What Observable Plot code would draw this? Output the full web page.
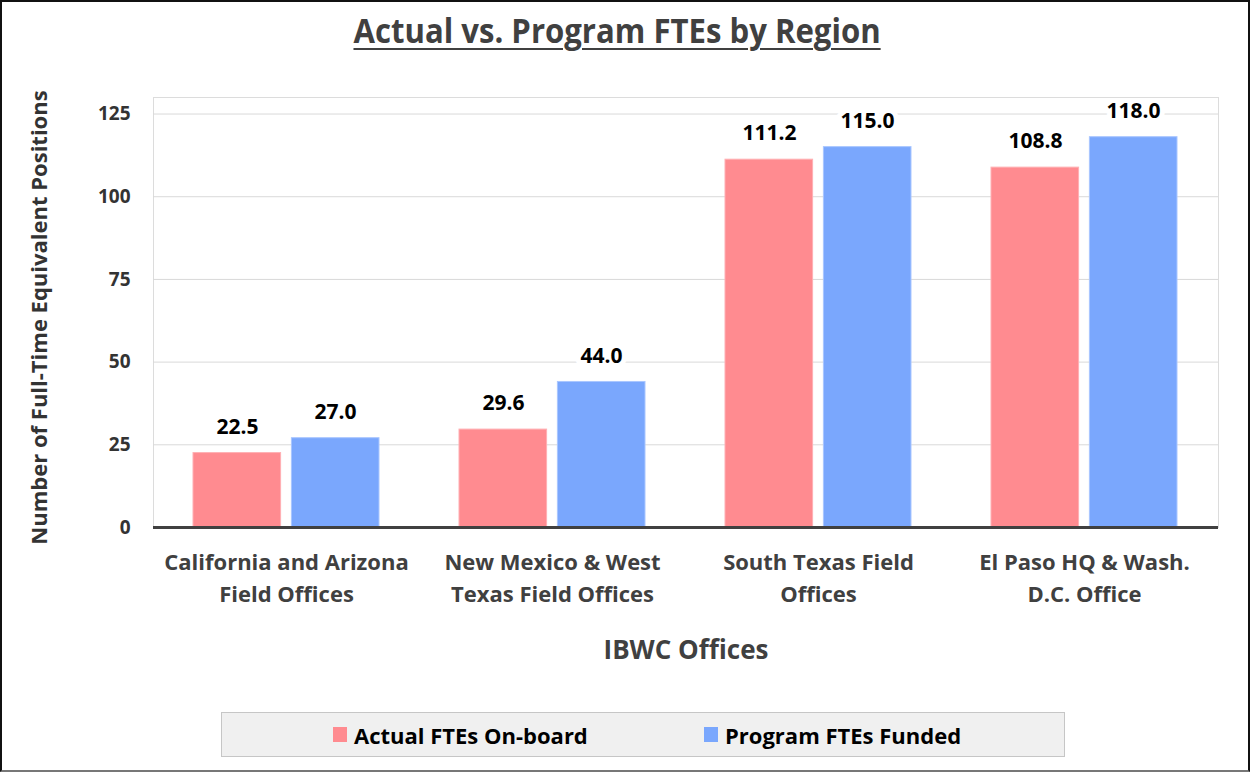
<!DOCTYPE html>
<html>
<head>
<meta charset="utf-8">
<script src="https://cdn.jsdelivr.net/npm/d3@7"></script>
<script src="https://cdn.jsdelivr.net/npm/@observablehq/plot@0.6"></script>
<style>
  html, body { margin: 0; padding: 0; background: #fff; }
  #wrap { position: relative; width: 1250px; height: 772px; overflow: hidden; background: #fff; }
  #frame { position: absolute; left: 0; top: 0; width: 1250px; height: 772px; box-sizing: border-box;
           border: 2px solid #111; border-bottom-color: #777; pointer-events: none; }
  #title { position: absolute; left: 0; top: 8px; width: 1234px; text-align: center;
           font-family: "Open Sans", sans-serif; font-weight: bold;
           font-size: 34px; line-height: 44px; color: #404040; }
  #title span { display: inline-block; transform: scaleX(0.915); transform-origin: center;
           text-decoration: underline; text-decoration-thickness: 2px; text-underline-offset: 5px; }
  #chart { position: absolute; left: 0; top: 0; }
  #legend { position: absolute; left: 221px; top: 712px; width: 844px; height: 45px; box-sizing: border-box;
            background: #f0f0f0; border: 1px solid #c6c6c6; }
  .item { position: absolute; top: 0; height: 43px; display: flex; align-items: center;
          font-family: "Open Sans", sans-serif; font-weight: bold;
          font-size: 22px; color: #000; }
  .sw { width: 14px; height: 15px; margin-right: 7px; }
</style>
</head>
<body>
<div id="wrap">
  <div id="chart"></div>
  <div id="title"><span></span></div>
  <div id="legend"></div>
  <div id="frame"></div>
</div>
<script>
const titleText = "Actual vs. Program FTEs by Region";
const categories = [
  "California and Arizona\nField Offices",
  "New Mexico & West\nTexas Field Offices",
  "South Texas Field\nOffices",
  "El Paso HQ & Wash.\nD.C. Office"
];
const actual = [22.5, 29.6, 111.2, 108.8];
const program = [27.0, 44.0, 115.0, 118.0];
const seriesNames = ["Actual FTEs On-board", "Program FTEs Funded"];
const seriesColors = ["#ff8b90", "#7aa7fd"];
const yTicks = [0, 25, 50, 75, 100, 125];
const xTitle = "IBWC Offices";
const yTitle = "Number of Full-Time Equivalent Positions";

const data = categories.map((c, i) => ({category: c, actual: actual[i], program: program[i]}));

const labelStyle = {fontSize: 21, fontWeight: "bold", fill: "#000", stroke: "white", strokeWidth: 10, lineAnchor: "middle"};

const chart = Plot.plot({
  width: 1250,
  height: 772,
  marginTop: 97,
  marginBottom: 245,
  marginLeft: 153,
  marginRight: 32,
  style: {fontFamily: "'Open Sans', sans-serif", fontWeight: "bold", background: "transparent"},
  x: {type: "band", domain: categories, paddingInner: 0.3, paddingOuter: 0.15, axis: null},
  y: {domain: [0, 130], axis: null},
  marks: [
    Plot.frame({stroke: "#dcdcdc"}),
    Plot.gridY(yTicks, {stroke: "#d9d9d9", strokeOpacity: 1}),
    Plot.barY(data, {x: "category", y: "actual", fill: seriesColors[0], stroke: "#ffb0b3", strokeWidth: 1, insetRight: 98.4}),
    Plot.barY(data, {x: "category", y: "program", fill: seriesColors[1], stroke: "#a9c6ff", strokeWidth: 1, insetLeft: 98.4}),
    Plot.ruleY([0], {stroke: "#404040", strokeWidth: 3}),
    Plot.text(data, {x: "category", y: "actual", text: d => d.actual.toFixed(1), dx: -49, dy: -26, ...labelStyle}),
    Plot.text(data, {x: "category", y: "program", text: d => d.program.toFixed(1), dx: 49, dy: -26, ...labelStyle}),
    Plot.axisY({ticks: yTicks, tickSize: 0, tickPadding: 23, fontSize: 19, fontWeight: "bold", fill: "#333", label: null}),
    Plot.axisX({tickSize: 0, tickPadding: 20, fontSize: 22, fontWeight: "bold", fill: "#404040", lineHeight: 1.45, label: null}),
    Plot.text([xTitle], {frameAnchor: "bottom", dy: 131, fontSize: 26, fontWeight: "bold", fill: "#404040"}),
    Plot.text([yTitle], {frameAnchor: "left", textAnchor: "middle", dx: -114, dy: 5, rotate: -90, fontSize: 22, fontWeight: "bold", fill: "#333"})
  ]
});
document.getElementById("chart").appendChild(chart);
document.querySelector("#title span").textContent = titleText;

const legend = document.getElementById("legend");
const itemLefts = [111, 482];
seriesNames.forEach((name, i) => {
  const item = document.createElement("div");
  item.className = "item";
  item.style.left = itemLefts[i] + "px";
  const sw = document.createElement("div");
  sw.className = "sw";
  sw.style.background = seriesColors[i];
  const t = document.createElement("span");
  t.textContent = name;
  item.appendChild(sw);
  item.appendChild(t);
  legend.appendChild(item);
});
</script>
</body>
</html>
